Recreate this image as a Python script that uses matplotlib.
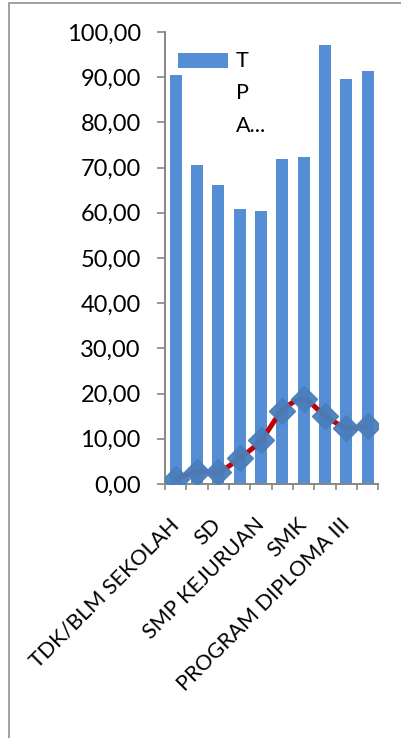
import numpy as np
import matplotlib
matplotlib.use("Agg")
import matplotlib.pyplot as plt
from matplotlib.path import Path
from matplotlib.patches import PathPatch, Rectangle

plt.rcParams['font.family'] = ['Lato', 'DejaVu Sans']

# education level categories (only every other one gets a label on the axis)
categories = ["TDK/BLM SEKOLAH", "TDK/BLM TAMAT SD", "SD", "SMP UMUM",
              "SMP KEJURUAN", "SMA UMUM", "SMK", "PROGRAM DIPLOMA I/II",
              "PROGRAM DIPLOMA III", "UNIVERSITAS"]
tpak = [90.5, 70.6, 66.2, 60.8, 60.4, 71.9, 72.3, 97.1, 89.6, 91.4]
rate = [1.0, 2.7, 2.7, 5.7, 9.7, 16.2, 18.7, 15.1, 12.5, 12.8]
yticks = [0, 10, 20, 30, 40, 50, 60, 70, 80, 90, 100]
legend_label = ["T", "P", "A..."]

bar_color = '#558ed5'
line_color = '#c00000'
marker_color = '#4a7ebb'
axis_color = '#868686'

W, H = 402, 738
fig = plt.figure(figsize=(W / 100, H / 100), dpi=100)
ax = fig.add_axes([165 / W, 1 - 484 / H, 213.3 / W, 452 / H])

x = np.arange(len(categories))
ax.bar(x, tpak, width=0.56, color=bar_color, zorder=2)

# smoothed line (catmull-rom style bezier between the points)
pts = np.column_stack([x, rate]).astype(float)
ext = np.vstack([pts[0], pts, pts[-1]])
verts = [tuple(pts[0])]
codes = [Path.MOVETO]
for i in range(len(pts) - 1):
    p0, p1, p2, p3 = ext[i], ext[i + 1], ext[i + 2], ext[i + 3]
    c1 = p1 + (p2 - p0) / 6
    c2 = p2 - (p3 - p1) / 6
    verts += [tuple(c1), tuple(c2), tuple(p2)]
    codes += [Path.CURVE4] * 3
ax.add_patch(PathPatch(Path(verts, codes), fill=False, edgecolor=line_color,
                       lw=3.6, capstyle='butt', zorder=3))
ax.plot(x, rate, linestyle='none', marker='D', markersize=13,
        color=marker_color, markeredgecolor=marker_color, alpha=0.95, zorder=4)

ax.set_xlim(-0.5, len(categories) - 0.5)
ax.set_ylim(0, 100)

for s in ['top', 'right']:
    ax.spines[s].set_visible(False)
for s in ['left', 'bottom']:
    ax.spines[s].set_color(axis_color)
    ax.spines[s].set_linewidth(1.4)

ax.set_yticks(yticks)
ax.set_yticklabels([f"{v:.2f}".replace('.', ',') for v in yticks])
ax.tick_params(axis='y', length=5.5, width=1.2, color=axis_color,
               labelsize=17, pad=12)

# major ticks between categories, labels on minor ticks at the centres
ax.set_xticks(np.arange(len(categories) + 1) - 0.5)
ax.set_xticklabels([])
ax.tick_params(axis='x', which='major', length=4, width=1.2, color=axis_color)
ax.set_xticks(x, minor=True)
ax.set_xticklabels([c if i % 2 == 0 else "" for i, c in enumerate(categories)],
                   minor=True, rotation=45, ha='right', va='center',
                   rotation_mode='anchor', fontsize=15.5)
ax.tick_params(axis='x', which='minor', length=0, pad=27)

# legend box, text wraps one letter per line
ax.add_patch(Rectangle((0.061, 0.921), 0.234, 0.032, transform=ax.transAxes,
                       facecolor=bar_color, edgecolor='none', clip_on=False,
                       zorder=5))
for i, t in enumerate(legend_label):
    ax.text(0.333, 0.9365 - i * 0.0725, t, transform=ax.transAxes,
            ha='left', va='center', fontsize=15.5)

# outer chart frame (only left and top edges fall inside the image)
fig.patches.append(Rectangle((9 / W, -0.1), 1.2, 1.1 - 3.5 / H,
                             transform=fig.transFigure, fill=False,
                             edgecolor='#9a9a9a', lw=1.3))

fig.savefig('out.png', dpi=100, facecolor='white')
